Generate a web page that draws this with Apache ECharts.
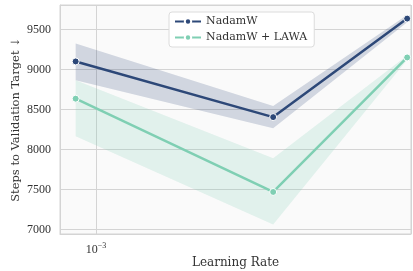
<!DOCTYPE html>
<html>
<head>
    <meta charset="utf-8"/>
    <title>Steps to target</title>
    <style>
        html, body { margin: 0; padding: 0; background: #fff; }
        #chart { width: 413px; height: 271px; }
    </style>
</head>
<body>
<div id="chart"></div>
<script src="https://cdn.jsdelivr.net/npm/echarts@6/dist/echarts.min.js"></script>
<script>
    // learning rates (x) and steps to target (y)
    var lr = [0.0009, 0.0025, 0.005];
    var nadamw = [9100, 8405, 9635];
    var nadamwLo = [8865, 8265, 9590];
    var nadamwHi = [9325, 8545, 9680];
    var lawa = [8635, 7470, 9150];
    var lawaLo = [8165, 7065, 9120];
    var lawaHi = [8865, 7890, 9175];

    var navy = '#2d4878';
    var mint = '#7fcfb3';
    var serif = 'DejaVu Serif';
    var digits = 'Liberation Serif';

    function pairs(ys) {
        return lr.map(function (x, i) { return [x, ys[i]]; });
    }

    // confidence band as one polygon, placed with the axes' own scales
    function band(lo, hi, color) {
        return {
            type: 'custom', silent: true, z: 1,
            data: lr.map(function (x, i) { return [x, lo[i], hi[i]]; }),
            encode: {x: 0, y: [1, 2]},
            renderItem: function (params, api) {
                if (params.dataIndex !== 0) return null;
                var pts = [];
                for (var i = 0; i < lr.length; i++) pts.push(api.coord([lr[i], hi[i]]));
                for (var j = lr.length - 1; j >= 0; j--) pts.push(api.coord([lr[j], lo[j]]));
                return {type: 'polygon', shape: {points: pts}, style: {fill: color}};
            }
        };
    }

    var chart = echarts.init(document.getElementById('chart'));

    chart.setOption({
        animation: false,
        textStyle: {fontFamily: serif},
        grid: {
            left: 60, right: 2, top: 5, bottom: 37,
            outerBoundsMode: 'none', containLabel: false,
            show: true, backgroundColor: '#fafafa', borderColor: '#d4d4d4', borderWidth: 1
        },
        legend: {
            data: ['NadamW', 'NadamW + LAWA'],
            orient: 'vertical',
            left: 169, top: 12,
            itemWidth: 26, itemHeight: 8, itemGap: 5,
            padding: [4, 7, 4, 5],
            backgroundColor: '#fff',
            borderColor: '#dcdcdc', borderWidth: 1, borderRadius: 3,
            textStyle: {fontFamily: serif, fontSize: 11, color: '#333'}
        },
        xAxis: {
            type: 'log',
            min: 0.00083, max: 0.0051,
            name: 'Learning Rate', nameLocation: 'middle', nameGap: 23, nameMoveOverlap: false,
            nameTextStyle: {fontFamily: serif, fontSize: 12, color: '#333'},
            axisLine: {show: true, lineStyle: {color: '#d4d4d4'}},
            axisTick: {show: false},
            splitLine: {show: true, lineStyle: {color: '#d4d4d4'}},
            axisLabel: {
                margin: 8,
                formatter: function (v) {
                    return Math.abs(Math.log10(v) + 3) < 1e-6 ? '{b|10}{s|−3}' : '';
                },
                rich: {
                    b: {fontFamily: digits, fontSize: 12, color: '#333'},
                    s: {fontFamily: digits, fontSize: 8, color: '#333', verticalAlign: 'top', padding: [0, 0, 7, 0]}
                }
            }
        },
        yAxis: {
            type: 'value',
            min: 6945, max: 9805,
            name: 'Steps to Validation Target ↓', nameLocation: 'middle', nameGap: 38, nameMoveOverlap: false,
            nameTextStyle: {fontFamily: serif, fontSize: 11.5, color: '#333'},
            axisLine: {show: true, lineStyle: {color: '#d4d4d4'}},
            axisTick: {show: false},
            splitLine: {show: true, lineStyle: {color: '#d4d4d4'}},
            axisLabel: {
                showMinLabel: false, showMaxLabel: false,
                margin: 9, fontFamily: digits, fontSize: 12, color: '#333',
                formatter: function (v) { return String(v); }
            }
        },
        series: [
            band(nadamwLo, nadamwHi, 'rgba(45,72,120,0.2)'),
            band(lawaLo, lawaHi, 'rgba(127,207,179,0.2)'),
            {
                name: 'NadamW', type: 'line', data: pairs(nadamw),
                symbol: 'circle', symbolSize: 7, z: 3,
                lineStyle: {color: navy, width: 2.5},
                itemStyle: {color: navy, borderColor: '#fff', borderWidth: 1}
            }, {
                name: 'NadamW + LAWA', type: 'line', data: pairs(lawa),
                symbol: 'circle', symbolSize: 7, z: 3,
                lineStyle: {color: mint, width: 2.5},
                itemStyle: {color: mint, borderColor: '#fff', borderWidth: 1}
            }
        ]
    });
</script>
</body>
</html>
